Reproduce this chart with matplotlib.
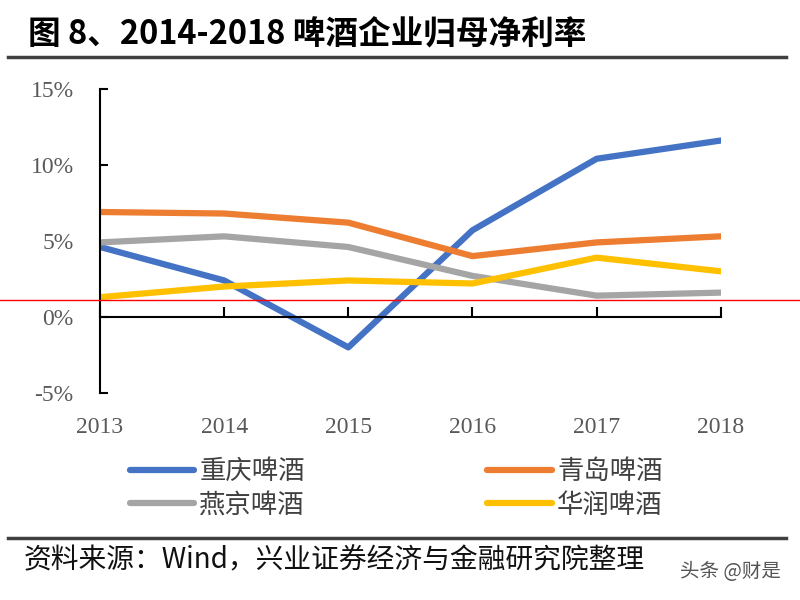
import matplotlib.pyplot as plt
from matplotlib.lines import Line2D

plt.rcParams['font.family'] = ['Noto Sans CJK SC', 'DejaVu Sans']

years = [2013, 2014, 2015, 2016, 2017, 2018]
chongqing = [4.6, 2.4, -2.0, 5.7, 10.4, 11.6]
qingdao = [6.9, 6.8, 6.2, 4.0, 4.9, 5.3]
yanjing = [4.9, 5.3, 4.6, 2.7, 1.4, 1.6]
huarun = [1.3, 2.0, 2.4, 2.2, 3.9, 3.0]

series_names = ['重庆啤酒', '青岛啤酒', '燕京啤酒', '华润啤酒']
colors = ['#4472C4', '#ED7D31', '#A5A5A5', '#FFC000']
y_ticks = [-5, 0, 5, 10, 15]

title = '图 8、2014-2018 啤酒企业归母净利率'
source = '资料来源：Wind，兴业证券经济与金融研究院整理'
watermark = '头条 @财是'

fig = plt.figure(figsize=(8, 6), dpi=100)
ax = fig.add_axes([0.125, 0.345, 0.776, 0.507])

lines = []
for vals, name, c in zip([chongqing, qingdao, yanjing, huarun], series_names, colors):
    ln, = ax.plot(years, vals, color=c, lw=4.5, solid_capstyle='round',
                  solid_joinstyle='round', label=name)
    lines.append(ln)

ax.set_xlim(2013, 2018)
ax.set_ylim(-5, 15)
ax.set_yticks(y_ticks)
ax.set_yticklabels([f'{v}%' for v in y_ticks], family='Liberation Serif',
                   fontsize=17, color='#595959')
ax.tick_params(axis='y', direction='in', length=6, width=1.5, pad=19)

# x axis line sits on 0%, labels stay at bottom
ax.spines['bottom'].set_position(('data', 0))
ax.spines['bottom'].set_linewidth(1.5)
ax.spines['left'].set_linewidth(1.5)
ax.spines['top'].set_visible(False)
ax.spines['right'].set_visible(False)
ax.set_xticks(years)
ax.tick_params(axis='x', direction='in', length=7, width=1.5, labelbottom=False)

secax = ax.secondary_xaxis('bottom')
secax.set_xticks(years)
secax.set_xticklabels([str(y) for y in years], family='Liberation Serif',
                      fontsize=17, color='#595959')
secax.tick_params(length=0, pad=17)
secax.spines['bottom'].set_visible(False)

fig.text(0.035, 0.942, title, fontsize=23.5, fontweight='bold', va='center')
fig.add_artist(Line2D([0.01, 0.982], [0.905, 0.905], color='#404040', lw=2.5))

# legend in two columns
handles = [lines[0], lines[2], lines[1], lines[3]]
labels = [series_names[0], series_names[2], series_names[1], series_names[3]]
fig.legend(handles, labels, loc='center', bbox_to_anchor=(0.495, 0.186), ncol=2,
           frameon=False, fontsize=19, handlelength=2.45, handletextpad=0.2,
           columnspacing=6.9, labelspacing=0.25, labelcolor='#404040')

fig.add_artist(Line2D([0.01, 0.982], [0.103, 0.103], color='#404040', lw=2.5))
fig.text(0.03, 0.066, source, fontsize=20, va='center', color='#111111')
fig.text(0.85, 0.047, watermark, fontsize=14, va='center', color='#555555')

# thin red rule across the picture
fig.add_artist(Line2D([0, 1], [0.5, 0.5], color='red', lw=1))

fig.savefig('out.png', dpi=100, facecolor='white')
